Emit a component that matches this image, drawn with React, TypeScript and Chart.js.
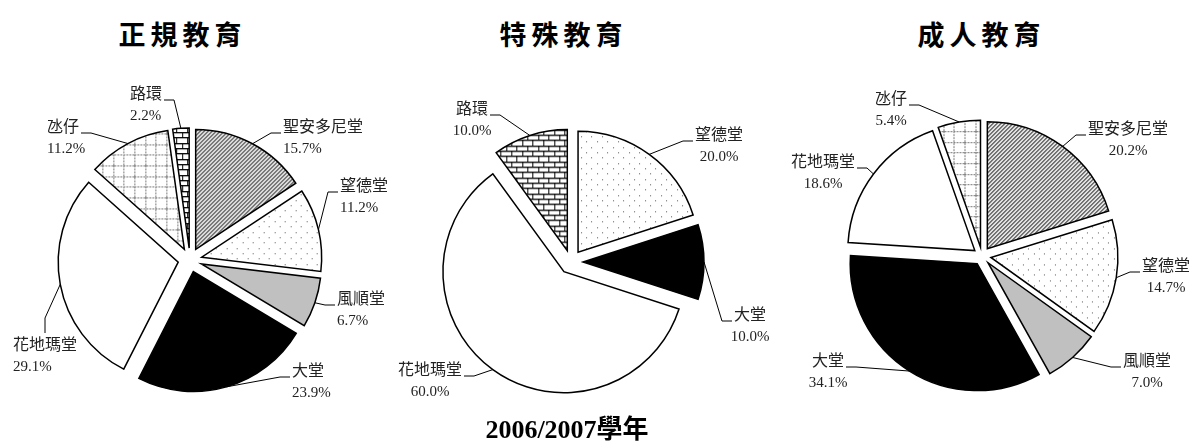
import React, { useEffect, useRef } from "react";
import { Chart, registerables } from "chart.js";

Chart.register(...registerables);

// ---------- data ----------
const chartTitles = ["正規教育", "特殊教育", "成人教育"];
const captionText = "2006/2007學年";

const regularLabels = ["聖安多尼堂", "望德堂", "風順堂", "大堂", "花地瑪堂", "氹仔", "路環"];
const regularValues = [15.7, 11.2, 6.7, 23.9, 29.1, 11.2, 2.2];

const specialLabels = ["望德堂", "大堂", "花地瑪堂", "路環"];
const specialValues = [20.0, 10.0, 60.0, 10.0];

const adultLabels = ["聖安多尼堂", "望德堂", "風順堂", "大堂", "花地瑪堂", "氹仔"];
const adultValues = [20.2, 14.7, 7.0, 34.1, 18.6, 5.4];

// ---------- label layout (text position relative to pie centre, leader side) ----------
type Side = "r" | "l" | "t";
const regularLabelLayout: [number, number, Side][] = [
  [93, -134, "r"], [150, -75, "r"], [147, 38, "r"], [102, 110, "r"],
  [-177, 84, "t"], [-143, -134, "l"], [-60, -167, "l"],
];
const specialLabelLayout: [number, number, Side][] = [
  [148, -128, "r"], [179, 52, "r"], [-141, 107, "l"], [-99, -154, "l"],
];
const adultLabelLayout: [number, number, Side][] = [
  [146, -128, "r"], [184, 9, "r"], [165, 104, "r"],
  [-154, 104, "l"], [-159, -95, "l"], [-91, -158, "l"],
];

// ---------- patterns ----------
function makeTile(w: number, h: number, draw: (c: CanvasRenderingContext2D) => void) {
  const c = document.createElement("canvas");
  c.width = w;
  c.height = h;
  const x = c.getContext("2d")!;
  x.fillStyle = "#ffffff";
  x.fillRect(0, 0, w, h);
  draw(x);
  return c;
}

function buildFills(ctx: CanvasRenderingContext2D): Record<string, string | CanvasPattern> {
  const hatch = makeTile(4, 4, (c) => {
    for (let i = 0; i < 4; i++) {
      c.fillStyle = "#222";
      c.fillRect(i, 3 - i, 1, 1);
      c.fillStyle = "#8a8a8a";
      c.fillRect(i, (4 - i) % 4, 1, 1);
    }
  });
  const step = 32 / 3;
  const dots = makeTile(32, 32, (c) => {
    c.fillStyle = "#555";
    for (let i = 0; i < 3; i++)
      for (let j = 0; j < 3; j++) {
        c.fillRect(Math.round(i * step), Math.round(j * step), 1, 1);
        c.fillRect(Math.round((i + 0.5) * step), Math.round((j + 0.5) * step), 1, 1);
      }
  });
  const grid = makeTile(32, 32, (c) => {
    c.fillStyle = "#7a7a7a";
    for (let k = 0; k < 3; k++) {
      const p = Math.round(k * step);
      for (let t = 0; t < 32; t += 3) {
        c.fillRect(p, t, 1, 2);
        c.fillRect(t, p, 2, 1);
      }
    }
  });
  const brick = makeTile(32, 32, (c) => {
    const rows = [0, 1, 2, 3, 4, 5, 6].map((k) => Math.round((k * 16) / 3));
    for (let k = 0; k < 6; k++) {
      c.fillStyle = "#000";
      c.fillRect(0, rows[k], 32, 1);
      c.fillStyle = "#666";
      c.fillRect(0, rows[k] + 1, 32, 0.5);
      c.fillStyle = "#000";
      const shift = k % 2 ? 16 / 3 : 0;
      for (let j = 0; j < 3; j++) {
        const x = Math.round(j * step + shift) % 32;
        c.fillRect(x, rows[k], 1, rows[k + 1] - rows[k]);
      }
    }
  });
  return {
    "聖安多尼堂": ctx.createPattern(hatch, "repeat")!,
    "望德堂": ctx.createPattern(dots, "repeat")!,
    "風順堂": "#c0c0c0",
    "大堂": "#000000",
    "花地瑪堂": "#ffffff",
    "氹仔": ctx.createPattern(grid, "repeat")!,
    "路環": ctx.createPattern(brick, "repeat")!,
  };
}

// ---------- plugins ----------
const NAME_FONT = '16px "Noto Sans CJK TC"';
const PCT_FONT = '15px "Liberation Serif"';

// draws Chart.js' own arc elements, each moved outwards along its mid angle
function makeExplodePlugin(explode: number) {
  return {
    id: "explodeSlices",
    beforeDatasetDraw(chart: any, args: any) {
      const ctx: CanvasRenderingContext2D = chart.ctx;
      args.meta.data.forEach((arc: any) => {
        const mid = (arc.startAngle + arc.endAngle) / 2;
        ctx.save();
        ctx.translate(Math.cos(mid) * explode, Math.sin(mid) * explode);
        arc.draw(ctx, chart.chartArea);
        ctx.restore();
      });
      return false;
    },
  };
}

function makeLabelPlugin(layout: [number, number, Side][], align: "left" | "center", explode: number) {
  return {
    id: "sliceLabels",
    afterDatasetsDraw(chart: any) {
      const ctx: CanvasRenderingContext2D = chart.ctx;
      const meta = chart.getDatasetMeta(0);
      const labels = chart.data.labels as string[];
      const vals = chart.data.datasets[0].data as number[];
      ctx.save();
      meta.data.forEach((arc: any, i: number) => {
        const p = arc.getProps(["x", "y", "startAngle", "endAngle", "outerRadius"], true);
        const mid = (p.startAngle + p.endAngle) / 2;
        const R = p.outerRadius + explode;
        const sx = p.x + Math.cos(mid) * R;
        const sy = p.y + Math.sin(mid) * R;
        const [dx, dy, side] = layout[i];
        const tx = p.x + dx;
        const ty = p.y + dy;
        const name = labels[i];
        const pct = vals[i].toFixed(1) + "%";
        ctx.font = NAME_FONT;
        const nameW = ctx.measureText(name).width;
        const left = align === "left" ? tx : tx - nameW / 2;
        const right = left + nameW;
        let ex: number, ey: number, bx: number, by: number;
        if (side === "r") {
          ex = left - 2; ey = ty + 7; bx = ex - 10; by = ey;
        } else if (side === "l") {
          ex = right + 2; ey = ty + 7; bx = ex + 10; by = ey;
        } else {
          ex = left + nameW / 2; ey = ty - 11; bx = ex; by = ey - 15;
        }
        ctx.strokeStyle = "#000";
        ctx.lineWidth = 1;
        ctx.beginPath();
        ctx.moveTo(sx, sy);
        ctx.lineTo(bx, by);
        ctx.lineTo(ex, ey);
        ctx.stroke();

        ctx.fillStyle = "#222";
        ctx.textAlign = align;
        ctx.textBaseline = "middle";
        ctx.font = NAME_FONT;
        ctx.fillText(name, tx, ty);
        ctx.font = PCT_FONT;
        ctx.textBaseline = "alphabetic";
        ctx.fillText(pct, tx, ty + 27);
      });
      ctx.restore();
    },
  };
}

// ---------- components ----------
type PieProps = {
  cx: number; cy: number; w: number; h: number;
  labels: string[]; values: number[];
  radius: number; explode: number;
  layout: [number, number, Side][]; align: "left" | "center";
};

function PieBlock(props: PieProps) {
  const ref = useRef<HTMLCanvasElement>(null);
  useEffect(() => {
    const canvas = ref.current!;
    const ctx = canvas.getContext("2d")!;
    const fills = buildFills(ctx);
    const chart = new Chart(canvas, {
      type: "pie",
      data: {
        labels: props.labels,
        datasets: [
          {
            data: props.values,
            backgroundColor: props.labels.map((l) => fills[l]),
            borderColor: "#000",
            borderWidth: 1.5,
            borderJoinStyle: "miter",
            offset: 0,
            hoverOffset: 0,
            radius: props.radius,
          } as any,
        ],
      },
      options: {
        responsive: false,
        animation: false,
        events: [],
        radius: props.radius,
        layout: { padding: 0 },
        plugins: {
          legend: { display: false },
          tooltip: { enabled: false },
          title: { display: false },
        },
      } as any,
      plugins: [makeExplodePlugin(props.explode), makeLabelPlugin(props.layout, props.align, props.explode)],
    });
    return () => chart.destroy();
  }, []);
  return (
    <canvas
      ref={ref}
      width={props.w}
      height={props.h}
      style={{
        position: "absolute",
        left: props.cx - props.w / 2,
        top: props.cy - props.h / 2,
        width: props.w,
        height: props.h,
      }}
    />
  );
}

function Title({ x, text }: { x: number; text: string }) {
  return (
    <div
      style={{
        position: "absolute",
        left: x,
        top: 33,
        transform: "translate(-50%, -50%)",
        font: 'bold 27px "Noto Sans CJK TC"',
        letterSpacing: "5px",
        paddingLeft: "5px",
        lineHeight: 1,
        whiteSpace: "nowrap",
        color: "#000",
      }}
    >
      {text}
    </div>
  );
}

export default function App() {
  return (
    <div
      style={{
        position: "absolute",
        left: 0,
        top: 0,
        width: 1190,
        height: 441,
        overflow: "hidden",
        background: "#fff",
      }}
    >
      <PieBlock cx={190} cy={260} w={420} h={360} labels={regularLabels} values={regularValues}
        radius={120} explode={12} layout={regularLabelLayout} align="left" />
      <PieBlock cx={571} cy={262} w={400} h={360} labels={specialLabels} values={specialValues}
        radius={121} explode={12} layout={specialLabelLayout} align="center" />
      <PieBlock cx={982} cy={256} w={416} h={360} labels={adultLabels} values={adultValues}
        radius={127} explode={9} layout={adultLabelLayout} align="center" />
      <Title x={180} text={chartTitles[0]} />
      <Title x={561} text={chartTitles[1]} />
      <Title x={979} text={chartTitles[2]} />
      <div
        style={{
          position: "absolute",
          left: 567,
          top: 417,
          transform: "translateX(-50%)",
          font: 'bold 26px "Liberation Serif", "Noto Sans CJK TC"',
          lineHeight: "26px",
          whiteSpace: "nowrap",
          color: "#000",
        }}
      >
        {captionText}
      </div>
    </div>
  );
}
